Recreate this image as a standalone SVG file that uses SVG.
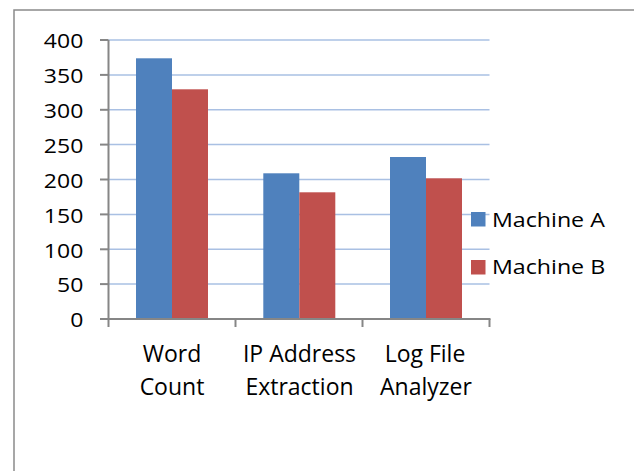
<svg xmlns="http://www.w3.org/2000/svg" width="634" height="471" viewBox="0 0 634 471">
  <style>
    .grid { stroke: #a9c0e3; stroke-width: 1.5; }
    .axis { stroke: #868686; stroke-width: 2; fill: none; }
    .ylab { font-family: "Open Sans", "Liberation Sans", sans-serif; font-size: 20px; fill: #000; text-anchor: end; }
    .xlab { font-family: "Open Sans", "Liberation Sans", sans-serif; font-size: 23px; fill: #000; text-anchor: middle; }
    .leg { font-family: "Open Sans", "Liberation Sans", sans-serif; font-size: 20px; fill: #000; }
    .a { fill: #4f81bd; }
    .b { fill: #c0504d; }
  </style>
  <rect x="0" y="0" width="634" height="471" fill="#ffffff"/>
  <rect id="frame" x="14" y="10" width="700" height="520" fill="none" stroke="#8a8a8a" stroke-width="1.5"/>

  <g id="gridlines">
    <line class="grid" x1="108.5" y1="40" x2="489.5" y2="40"/>
    <line class="grid" x1="108.5" y1="74.9" x2="489.5" y2="74.9"/>
    <line class="grid" x1="108.5" y1="109.8" x2="489.5" y2="109.8"/>
    <line class="grid" x1="108.5" y1="144.6" x2="489.5" y2="144.6"/>
    <line class="grid" x1="108.5" y1="179.5" x2="489.5" y2="179.5"/>
    <line class="grid" x1="108.5" y1="214.4" x2="489.5" y2="214.4"/>
    <line class="grid" x1="108.5" y1="249.3" x2="489.5" y2="249.3"/>
    <line class="grid" x1="108.5" y1="284.1" x2="489.5" y2="284.1"/>
  </g>

  <g id="bars">
    <rect class="a" x="136" y="58.3" width="36" height="260.7"/>
    <rect class="b" x="172" y="89.3" width="36" height="229.7"/>
    <rect class="a" x="263.3" y="173.3" width="36" height="145.7"/>
    <rect class="b" x="299.3" y="192.3" width="36" height="126.7"/>
    <rect class="a" x="390" y="157" width="36" height="162"/>
    <rect class="b" x="426" y="178.3" width="36" height="140.7"/>
  </g>

  <g id="axes">
    <line class="axis" x1="108.5" y1="40" x2="108.5" y2="327"/>
    <line class="axis" x1="100" y1="319" x2="490.5" y2="319"/>
    <line class="axis" x1="100" y1="40" x2="108.5" y2="40"/>
    <line class="axis" x1="100" y1="74.9" x2="108.5" y2="74.9"/>
    <line class="axis" x1="100" y1="109.8" x2="108.5" y2="109.8"/>
    <line class="axis" x1="100" y1="144.6" x2="108.5" y2="144.6"/>
    <line class="axis" x1="100" y1="179.5" x2="108.5" y2="179.5"/>
    <line class="axis" x1="100" y1="214.4" x2="108.5" y2="214.4"/>
    <line class="axis" x1="100" y1="249.3" x2="108.5" y2="249.3"/>
    <line class="axis" x1="100" y1="284.1" x2="108.5" y2="284.1"/>
    <line class="axis" x1="235.5" y1="319" x2="235.5" y2="327"/>
    <line class="axis" x1="362.5" y1="319" x2="362.5" y2="327"/>
    <line class="axis" x1="489.5" y1="319" x2="489.5" y2="327"/>
  </g>

  <g id="ylabels">
    <text class="ylab" transform="translate(83.3,48.3) scale(1.15,1)">400</text>
    <text class="ylab" transform="translate(83.3,83.2) scale(1.15,1)">350</text>
    <text class="ylab" transform="translate(83.3,118.1) scale(1.15,1)">300</text>
    <text class="ylab" transform="translate(83.3,152.9) scale(1.15,1)">250</text>
    <text class="ylab" transform="translate(83.3,187.8) scale(1.15,1)">200</text>
    <text class="ylab" transform="translate(83.3,222.7) scale(1.15,1)">150</text>
    <text class="ylab" transform="translate(83.3,257.6) scale(1.15,1)">100</text>
    <text class="ylab" transform="translate(83.3,292.4) scale(1.15,1)">50</text>
    <text class="ylab" transform="translate(83.3,326.5) scale(1.15,1)">0</text>
  </g>

  <g id="xlabels">
    <text class="xlab" x="172" y="362">Word</text>
    <text class="xlab" x="172" y="394.5">Count</text>
    <text class="xlab" x="299.5" y="362">IP Address</text>
    <text class="xlab" x="299.5" y="394.5">Extraction</text>
    <text class="xlab" x="425" y="362">Log File</text>
    <text class="xlab" x="426" y="394.5">Analyzer</text>
  </g>

  <g id="legend">
    <g id="legend-a">
      <rect class="a" x="471" y="212" width="14.5" height="14.5"/>
      <text class="leg" transform="translate(492,226.7) scale(1.16,1)">Machine A</text>
    </g>
    <g id="legend-b">
      <rect class="b" x="471" y="260" width="14.5" height="14.5"/>
      <text class="leg" transform="translate(492,274.3) scale(1.16,1)">Machine B</text>
    </g>
  </g>
</svg>
